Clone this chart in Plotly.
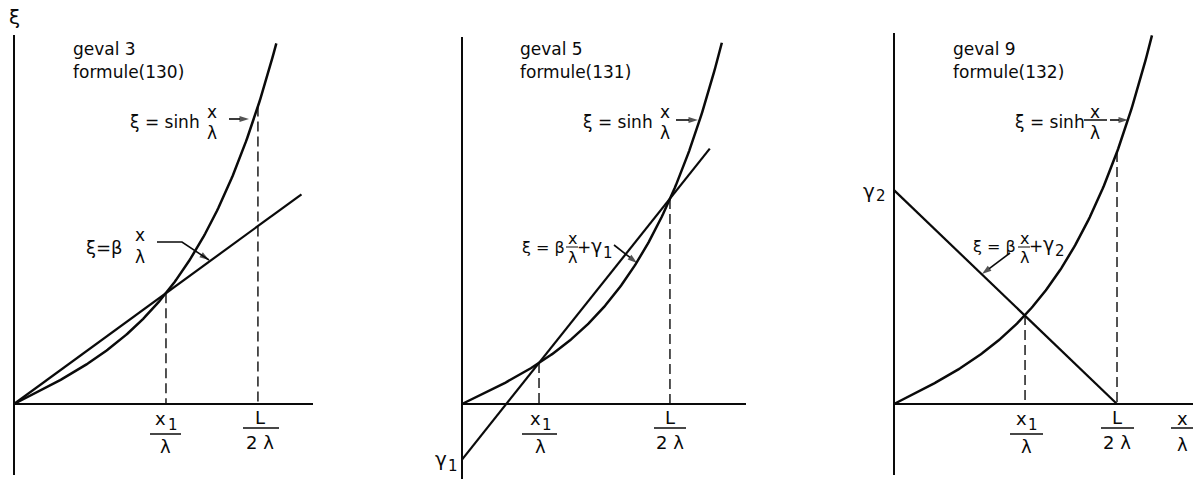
import numpy as np
import plotly.graph_objects as go

W, H = 1204, 479
FONT = "DejaVu Sans"
INK = "#0a0a0a"

# ---- values per panel (x/lambda and xi) ----
case_names = ["geval 3", "geval 5", "geval 9"]
formula_names = ["formule(130)", "formule(131)", "formule(132)"]

# intersection points x1/lambda and L/(2 lambda), and end of drawn sinh curve
u_x1 = [1.57, 0.83, 1.409]
u_L = [2.52, 2.241, 2.398]
u_end = [2.71, 2.80, 2.774]

# straight line xi = beta*x/lambda (+gamma): two end points each
line_u = [[0.0, 2.97], [0.0, 2.67], [0.0, 2.398]]
line_xi = [[0.0, 4.35], [-1.26, 5.79], [4.63, 0.0]]

# ---- panel geometry (pixels) ----
origin_px = [(14, 404), (462, 404), (894, 404)]
scale_px = [(96.8, 48.2), (92.8, 44.1), (93.0, 46.2)]   # px per unit (x, xi)
domain_px = [(0, 420), (421, 850), (851, 1204)]
yaxis_px = [(35, 475), (37, 479), (33, 475)]              # top, bottom of drawn xi-axis
xaxis_end_px = [313, 746, 1193]


def pxp(x):
    return x / W


def pyp(y):
    return 1 - y / H


fig = go.Figure()
shapes = []
annotations = []

for i in range(3):
    sfx = "" if i == 0 else str(i + 1)
    xa, ya = "x" + sfx, "y" + sfx
    ox, oy = origin_px[i]
    a, b = scale_px[i]
    d0, d1 = domain_px[i]

    fig.update_layout({
        "xaxis" + sfx: dict(domain=[pxp(d0), pxp(d1)],
                            range=[(d0 - ox) / a, (d1 - ox) / a],
                            visible=False, anchor=ya, fixedrange=True),
        "yaxis" + sfx: dict(domain=[0, 1],
                            range=[(oy - H) / b, oy / b],
                            visible=False, anchor=xa, fixedrange=True),
    })

    # axes drawn as plain lines through the origin
    top, bot = yaxis_px[i]
    shapes.append(dict(type="line", xref=xa, yref=ya, x0=0, x1=0,
                       y0=(oy - bot) / b, y1=(oy - top) / b,
                       line=dict(color=INK, width=2.0)))
    shapes.append(dict(type="line", xref=xa, yref=ya, x0=0,
                       x1=(xaxis_end_px[i] - ox) / a, y0=0, y1=0,
                       line=dict(color=INK, width=2.0)))

    # xi = sinh(x/lambda)
    u = np.linspace(0, u_end[i], 200)
    fig.add_trace(go.Scatter(x=u, y=np.sinh(u), mode="lines", xaxis=xa, yaxis=ya,
                             line=dict(color=INK, width=2.5), hoverinfo="skip",
                             showlegend=False))
    # straight line
    fig.add_trace(go.Scatter(x=line_u[i], y=line_xi[i], mode="lines", xaxis=xa, yaxis=ya,
                             line=dict(color=INK, width=2.2), hoverinfo="skip",
                             showlegend=False))
    # dashed drop lines at x1/lambda and L/(2 lambda)
    for uv in (u_x1[i], u_L[i]):
        fig.add_trace(go.Scatter(x=[uv, uv], y=[np.sinh(uv), 0], mode="lines",
                                 xaxis=xa, yaxis=ya,
                                 line=dict(color=INK, width=1.4, dash="10px,5px"),
                                 hoverinfo="skip", showlegend=False))

# full-page axis in pixel units, used for the pointer arrows of the labels
fig.update_layout(
    xaxis4=dict(domain=[0, 1], range=[0, W], visible=False, anchor="y4",
                fixedrange=True),
    yaxis4=dict(domain=[0, 1], range=[H, 0], visible=False, anchor="x4",
                fixedrange=True),
)


def text(x, y, s, size=17, xanchor="center"):
    annotations.append(dict(x=pxp(x), y=pyp(y), xref="paper", yref="paper",
                            text=s, showarrow=False, xanchor=xanchor, yanchor="middle",
                            font=dict(family=FONT, size=size, color=INK)))


def bar(x0, x1, y, width=1.5):
    shapes.append(dict(type="line", xref="paper", yref="paper",
                       x0=pxp(x0), x1=pxp(x1), y0=pyp(y), y1=pyp(y),
                       line=dict(color=INK, width=width)))


def arrow(*pts):
    xs = [p[0] for p in pts]
    ys = [p[1] for p in pts]
    sizes = [0] * (len(pts) - 1) + [10]
    fig.add_trace(go.Scatter(x=xs, y=ys, xaxis="x4", yaxis="y4", mode="lines+markers",
                             line=dict(color=INK, width=1.6),
                             marker=dict(symbol="arrow", angleref="previous",
                                         size=sizes, color=INK, line=dict(width=0)),
                             hoverinfo="skip", showlegend=False))


# axis titles
text(14, 17, "ξ", size=20)
text(1182, 418, "x", size=18)
bar(1171, 1193, 428)
text(1182, 444, "λ", size=18)

# case captions
caption_x = [71, 518, 951]
for i in range(3):
    text(caption_x[i], 49, case_names[i], xanchor="left")
    text(caption_x[i], 72, formula_names[i], xanchor="left")

# tick-style fraction labels under the x-axis
x1_c = [166, 540, 1026]
x1_bar = [(150, 181), (522, 557), (1010, 1043)]
L_c = [260, 670, 1117]
L_bar = [(243, 279), (654, 686), (1101, 1134)]
for i in range(3):
    text(x1_c[i] - 5, 418, "x", size=18)
    text(x1_c[i] + 7, 425, "1", size=15)
    bar(*x1_bar[i], 434)
    text(x1_c[i], 446, "λ", size=18)
    text(L_c[i], 417, "L", size=18)
    bar(*L_bar[i], 428)
    text(L_c[i], 442, "2 λ", size=18)

# gamma marks on the xi-axis
text(441, 459, "γ", size=20)
text(453, 466, "1", size=15)
text(869, 191, "γ", size=20)
text(881, 196, "2", size=15)

# xi = sinh x/lambda labels
sinh_left = [128, 581, 1013]
sinh_frac = [212, 665, 1095]
sinh_arrow = [((229, 119), (249, 119)), ((676, 120), (698, 120)),
              ((1110, 120), (1128, 120))]
for i in range(3):
    text(sinh_left[i], 122, "ξ = sinh", size=17, xanchor="left")
    text(sinh_frac[i], 112, "x", size=17)
    text(sinh_frac[i], 133, "λ", size=17)
    arrow(*sinh_arrow[i])
bar(1084, 1107, 120)

# xi = beta x/lambda (+ gamma) labels
text(84, 248, "ξ=β", size=18, xanchor="left")
text(140, 235, "x", size=17)
text(140, 257, "λ", size=17)
arrow((157, 242), (182, 242), (209, 260))

text(520, 247, "ξ = β", size=16, xanchor="left")
text(572, 238, "x", size=16)
bar(566, 578, 247, 1.0)
text(572, 257, "λ", size=16)
text(584, 247, "+", size=17)
text(596, 246, "γ", size=19)
text(608, 253, "1", size=15)
arrow((614, 245), (637, 263))

text(971, 246, "ξ = β", size=16, xanchor="left")
text(1024, 238, "x", size=16)
bar(1018, 1030, 247, 1.0)
text(1024, 257, "λ", size=16)
text(1036, 246, "+", size=17)
text(1048, 244, "γ", size=19)
text(1060, 251, "2", size=15)
arrow((1010, 253), (982, 274))

fig.update_layout(width=W, height=H, margin=dict(l=0, r=0, t=0, b=0),
                  paper_bgcolor="white", plot_bgcolor="rgba(0,0,0,0)",
                  shapes=shapes, annotations=annotations, showlegend=False)

fig.write_html("out.html", config={"displayModeBar": False})
